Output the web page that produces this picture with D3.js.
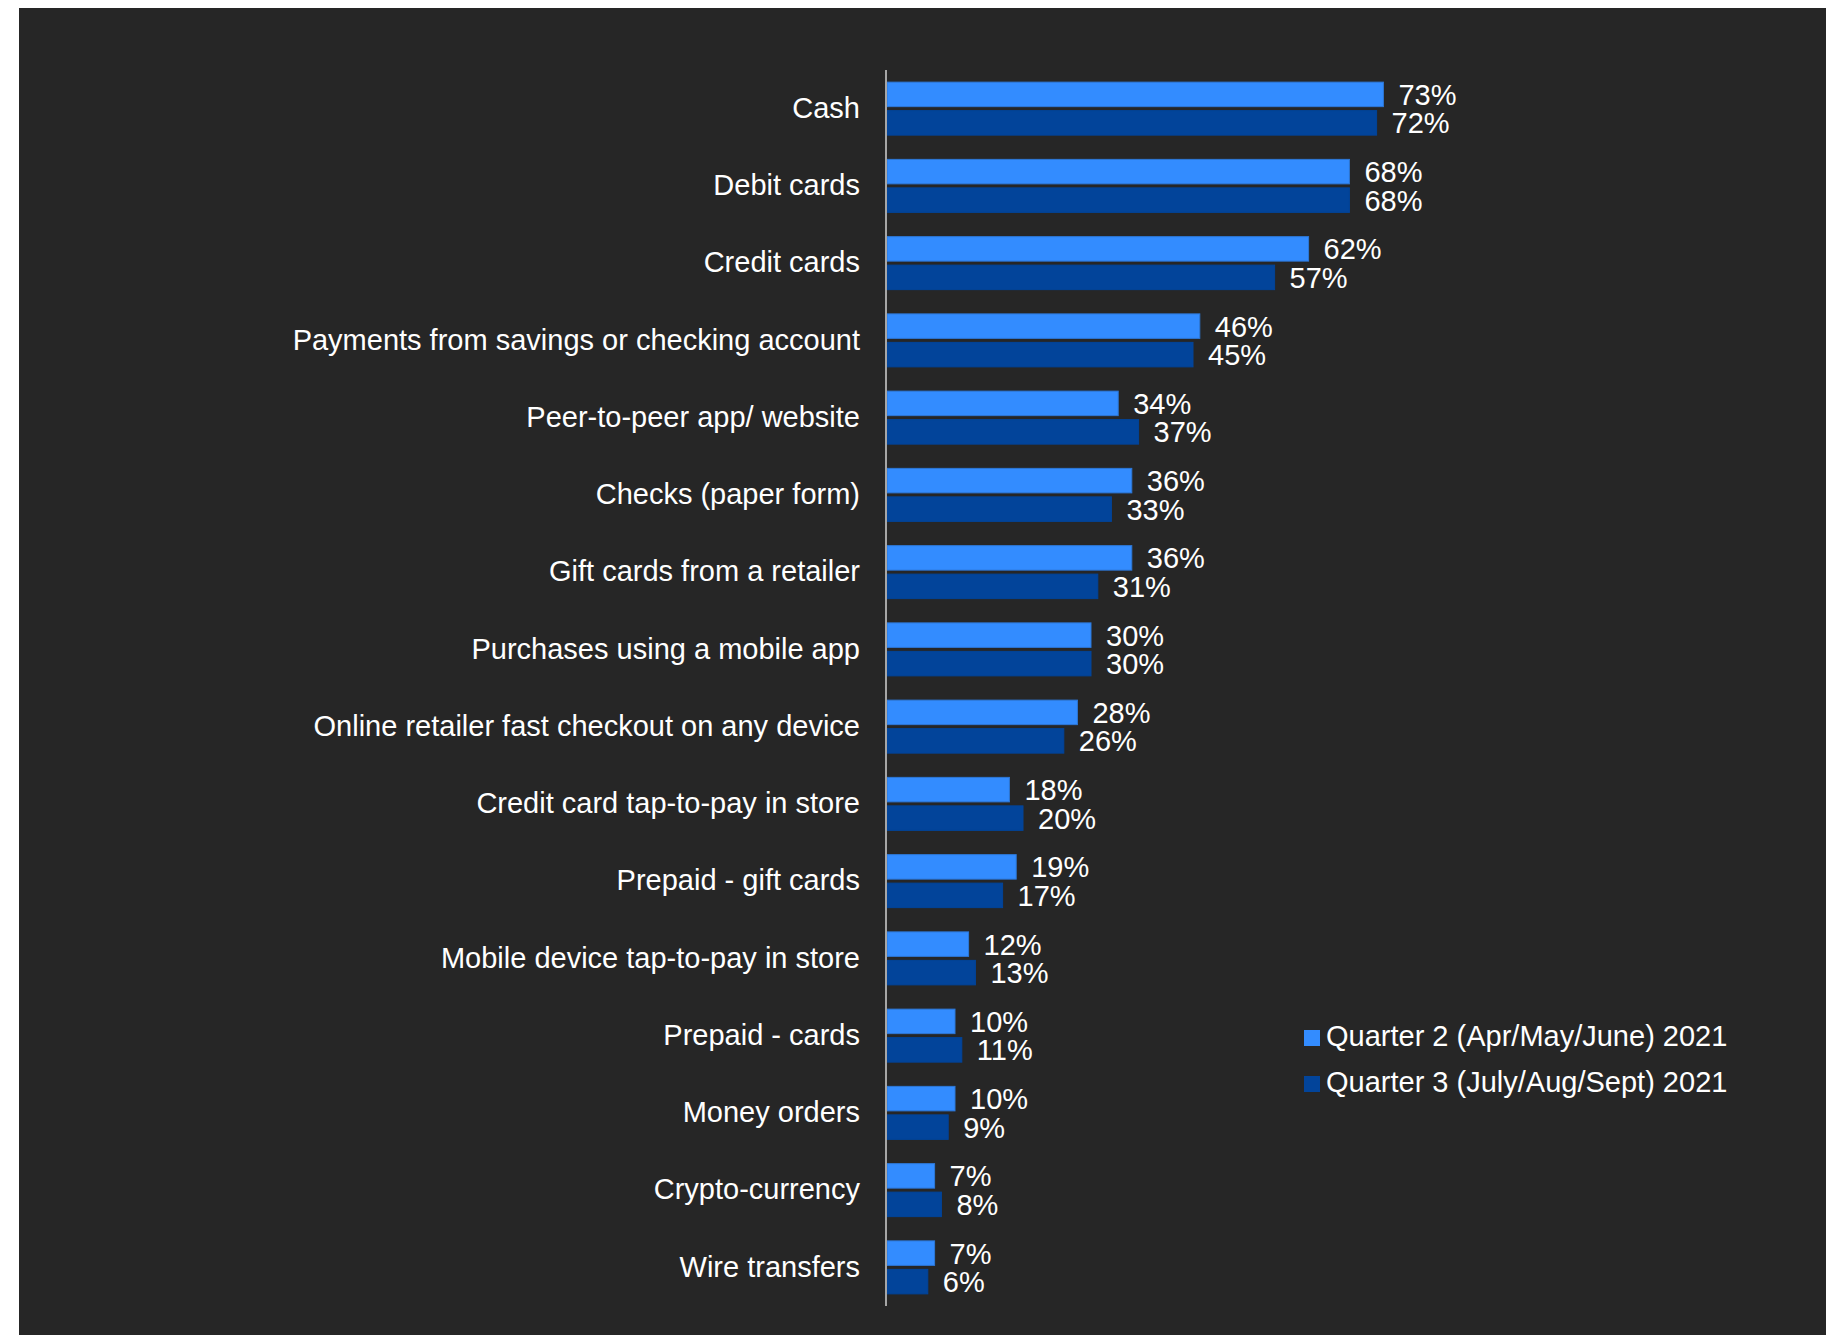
<!DOCTYPE html>
<html>
<head>
<meta charset="utf-8">
<script src="https://cdn.jsdelivr.net/npm/d3@7"></script>
<style>
  html, body { margin: 0; padding: 0; background: #ffffff; }
  svg { display: block; }
  text { font-family: "Liberation Sans", Arial, sans-serif; fill: #ffffff; }
</style>
</head>
<body>
<svg id="chart" width="1829" height="1335"></svg>
<script>
// Payment methods used, by quarter (percent of respondents)
const categories = [
  "Cash",
  "Debit cards",
  "Credit cards",
  "Payments from savings or checking account",
  "Peer-to-peer app/ website",
  "Checks (paper form)",
  "Gift cards from a retailer",
  "Purchases using a mobile app",
  "Online retailer fast checkout on any device",
  "Credit card tap-to-pay in store",
  "Prepaid - gift cards",
  "Mobile device tap-to-pay in store",
  "Prepaid - cards",
  "Money orders",
  "Crypto-currency",
  "Wire transfers"
];
const q2Values = [73, 68, 62, 46, 34, 36, 36, 30, 28, 18, 19, 12, 10, 10, 7, 7];
const q3Values = [72, 68, 57, 45, 37, 33, 31, 30, 26, 20, 17, 13, 11, 9, 8, 6];
const seriesNames = ["Quarter 2 (Apr/May/June) 2021", "Quarter 3 (July/Aug/Sept) 2021"];
const seriesKeys = ["q2", "q3"];
const seriesColors = ["#338cff", "#02449a"];
const seriesStrokes = ["#2d78d8", "#02449a"];

const rows = categories.map((c, i) => ({ category: c, q2: q2Values[i], q3: q3Values[i] }));

const svg = d3.select("#chart");
const fontSize = 29;

// dark panel
svg.append("rect")
  .attr("x", 19).attr("y", 8)
  .attr("width", 1807).attr("height", 1335 - 8)
  .attr("fill", "#262626");

const axisX = 887;
const x = d3.scaleLinear().domain([0, 100]).range([axisX, axisX + 680]);
const y = d3.scaleBand().domain(categories).range([70, 1306]).paddingInner(0.314).paddingOuter(0.157);
const ySub = d3.scaleBand().domain(seriesKeys).range([0, y.bandwidth()]).paddingInner(0.14);

const groups = svg.append("g").selectAll("g")
  .data(rows)
  .join("g")
  .attr("transform", d => `translate(0,${y(d.category)})`);

seriesKeys.forEach((key, si) => {
  groups.append("rect")
    .attr("x", x(0))
    .attr("y", ySub(key))
    .attr("width", d => x(d[key]) - x(0))
    .attr("height", ySub.bandwidth())
    .attr("fill", seriesColors[si])
    .attr("stroke", seriesStrokes[si])
    .attr("stroke-width", 1);

  groups.append("text")
    .attr("x", d => x(d[key]) + 15)
    .attr("y", ySub(key) + ySub.bandwidth() / 2)
    .attr("dy", "0.36em")
    .attr("font-size", fontSize)
    .text(d => d[key] + "%");
});

// category axis on the left
const yAxis = d3.axisLeft(y).tickSize(0).tickPadding(26);
const axisG = svg.append("g")
  .attr("transform", `translate(${axisX - 1},0)`)
  .call(yAxis);
axisG.select(".domain").remove();
axisG.selectAll("text")
  .attr("font-size", fontSize)
  .attr("fill", "#ffffff")
  .attr("font-family", "\"Liberation Sans\", Arial, sans-serif");

svg.append("line")
  .attr("x1", axisX - 1).attr("x2", axisX - 1)
  .attr("y1", 70).attr("y2", 1306)
  .attr("stroke", "#a6a6a6")
  .attr("stroke-width", 2);

// legend
const legend = svg.append("g").attr("transform", "translate(1304,1030)");
seriesNames.forEach((name, i) => {
  const g = legend.append("g").attr("transform", `translate(0,${i * 46})`);
  g.append("rect").attr("width", 16).attr("height", 16).attr("fill", seriesColors[i]);
  g.append("text")
    .attr("x", 22)
    .attr("y", 6)
    .attr("dy", "0.36em")
    .attr("font-size", fontSize)
    .text(name);
});
</script>
</body>
</html>
